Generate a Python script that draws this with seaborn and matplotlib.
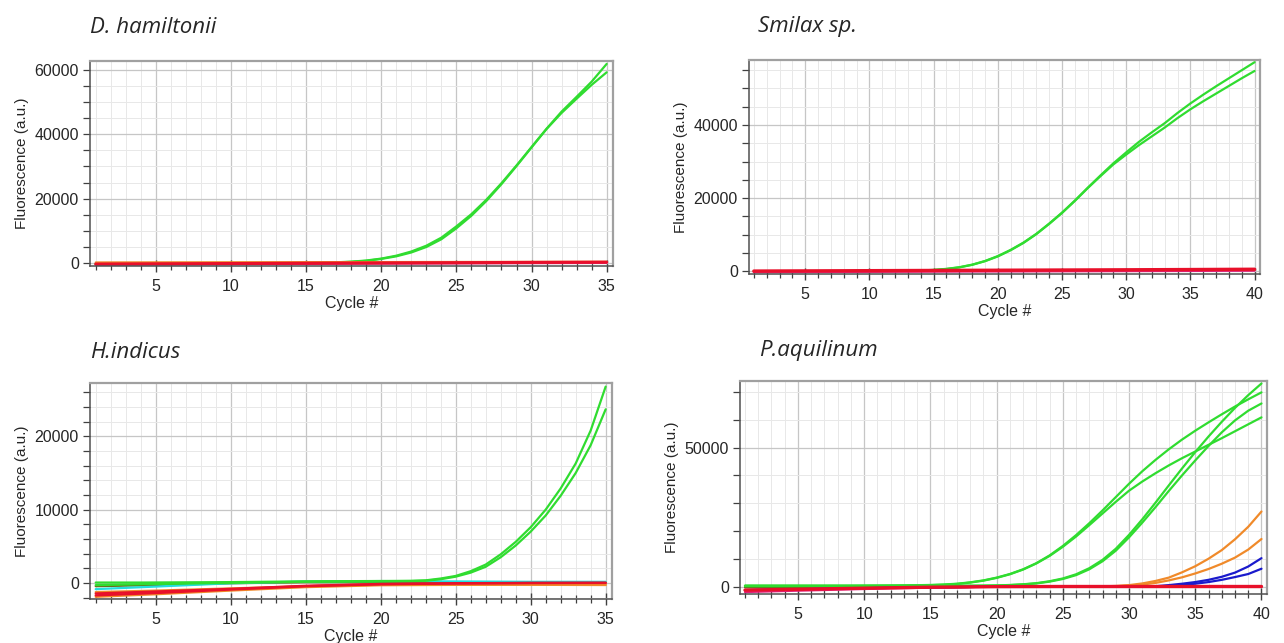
import matplotlib
matplotlib.use('Agg')
import matplotlib.pyplot as plt
from matplotlib.ticker import MultipleLocator, FixedLocator
import pandas as pd
import seaborn as sns

# x values
cyc35 = list(range(1, 36))
cyc40 = list(range(1, 41))
base35 = [1, 5, 10, 15, 20, 25, 30, 35]
base40 = [1, 5, 10, 15, 20, 25, 30, 35, 40]

# D. hamiltonii
dh_green_a = [-200, -190, -180, -170, -160, -150, -140, -130, -120, -100,
              -80, -60, -30, 0, 50, 120, 250, 450, 800,
              1400, 2300, 3600, 5400, 7900, 11400, 15200, 19700, 24800,
              30300, 36000, 41700, 47000, 51600, 56300, 61800]
dh_green_b = [-250, -240, -230, -220, -210, -200, -185, -170, -155, -140,
              -120, -100, -70, -40, 0, 80, 200, 380, 700,
              1300, 2100, 3300, 5000, 7400, 10800, 14700, 19300, 24500,
              30100, 35900, 41600, 46600, 51000, 55300, 59200]
dh_orange = [200, 230, 260, 290, 320, 350, 380, 400]
dh_magenta = [-500, -420, -330, -250, -160, -80, 0, 80]
dh_red = [-300, -220, -130, -40, 50, 130, 220, 300]

# Smilax sp.
sm_green_a = [-100, -100, -90, -80, -70, -60, -50, -40, -30, -20, 0, 30, 80,
              160, 320, 600, 1050, 1750, 2750, 4100, 5800, 7800, 10200, 13000,
              16000, 19300, 22800, 26200, 29500, 32500, 35400, 38000, 40500,
              43300, 45900, 48300, 50600, 52800, 55000, 57200]
sm_green_b = [-150, -150, -140, -130, -120, -110, -100, -90, -80, -60, -40, -10, 40,
              120, 280, 560, 1000, 1700, 2700, 4000, 5700, 7700, 10100, 12900,
              15900, 19200, 22700, 26000, 29200, 31900, 34500, 36900, 39300,
              41900, 44300, 46500, 48600, 50700, 52800, 54800]
sm_orange = [-100, -60, -20, 30, 80, 130, 180, 240, 300]
sm_magenta = [-300, -260, -210, -160, -110, -60, -10, 40, 100]
sm_red = [0, 50, 110, 170, 230, 290, 350, 420, 500]

# H. indicus
hi_green_a = [50, 50, 50, 50, 60, 70, 80, 90, 100, 110, 130, 150, 170, 190, 210,
              220, 230, 240, 250, 260, 270, 290, 350,
              600, 950, 1600, 2500, 3900, 5600, 7600, 10000, 12900, 16300, 20800, 26800]
hi_green_b = [-300, -260, -220, -180, -150, -120, -90, -60, -30, 0, 30, 60, 90, 120, 150,
              160, 170, 180, 190, 200, 210, 240, 300,
              500, 850, 1400, 2200, 3500, 5100, 7000, 9200, 11900, 15000, 18800, 23700]
hi_olive = [-450, -300, -50, 100, 100, 80, 60, 50]
hi_cyan = [-850, -500, -50, 200, 250, 200, 150, 150]
hi_orange_a = [-1250, -1050, -750, -450, -250, -220, -220, -250]
hi_orange_b = [-1900, -1550, -1050, -580, -320, -270, -260, -290]
hi_red_a = [-1450, -1180, -820, -400, -150, -50, 0, 20]
hi_red_b = [-1700, -1380, -900, -450, -180, -80, -20, 0]

# P. aquilinum
pa_green_a = [300, 300, 300, 300, 300, 300, 300, 300, 300, 320, 340, 370, 410, 470,
              560, 720, 1000, 1500, 2200, 3200, 4500, 6200, 8400, 11200, 14600, 18500,
              22800, 27400, 32200, 37000, 41500, 45600, 49400, 52900, 56100, 59100,
              62000, 64800, 67400, 69900]
pa_green_b = [200, 200, 200, 200, 200, 200, 200, 210, 220, 240, 260, 290, 330, 390,
              480, 640, 920, 1400, 2100, 3100, 4400, 6100, 8300, 11000, 14300, 18000,
              22100, 26300, 30500, 34500, 37800, 40800, 43600, 46200, 48600, 51000,
              53400, 55900, 58400, 60900]
pa_green_c = [250, 250, 250, 250, 250, 250, 250, 250, 250, 250, 250, 250, 250, 260,
              270, 280, 300, 320, 350,
              400, 550, 800, 1200, 1900, 2900, 4400, 6600, 9600, 13600, 18600, 24200,
              30200, 36400, 42500, 48400, 54000, 59300, 64300, 68900, 73100]
pa_green_d = [150, 150, 150, 150, 150, 150, 150, 150, 150, 150, 150, 150, 150, 160,
              170, 180, 200, 220, 250,
              350, 500, 750, 1100, 1750, 2700, 4100, 6200, 9100, 12900, 17700, 23000,
              28600, 34400, 40000, 45400, 50600, 55500, 59800, 63300, 65900]
pa_late_x = [1, 10, 20, 28, 29, 30, 31, 32, 33, 34, 35, 36, 37, 38, 39, 40]
pa_orange_a = [-1300, -600, -50, 50, 200, 500, 1100, 2000, 3200, 5100, 7300, 10000, 13100, 17000, 21500, 27000]
pa_orange_b = [-1300, -600, -50, 20, 100, 300, 700, 1300, 2200, 3300, 4700, 6300, 8200, 10400, 13300, 17100]
pa_blue_a = [-1300, -600, -50, 0, 0, 20, 50, 100, 500, 1000, 1600, 2400, 3500, 5000, 7200, 10200]
pa_blue_b = [-1300, -600, -50, 0, 0, 0, 20, 60, 200, 600, 1000, 1600, 2400, 3400, 4500, 6400]
pa_olive = [-300, -220, -120, -40, 0, 0, 0, 0, 0]
pa_magenta = [-2000, -1500, -900, -400, -100, 0, 0, 0, 0]
pa_red = [-1300, -1000, -600, -250, -50, 0, 0, 0, 0]

titles = ['D. hamiltonii', 'Smilax sp.', 'H.indicus', 'P.aquilinum']

GREEN = '#30dc30'
RED = '#e8102a'
MAGENTA = '#e0207a'
ORANGE = '#f08a2a'
BLUE = '#1a1acc'
CYAN = '#22dede'
OLIVE = '#6b6b1a'

panels = [
    [('g1', cyc35, dh_green_a, GREEN), ('g2', cyc35, dh_green_b, GREEN),
     ('o1', base35, dh_orange, ORANGE), ('m1', base35, dh_magenta, MAGENTA),
     ('r1', base35, dh_red, RED)],
    [('g1', cyc40, sm_green_a, GREEN), ('g2', cyc40, sm_green_b, GREEN),
     ('o1', base40, sm_orange, ORANGE), ('m1', base40, sm_magenta, MAGENTA),
     ('r1', base40, sm_red, RED)],
    [('v1', base35, hi_olive, OLIVE), ('c1', base35, hi_cyan, CYAN),
     ('g1', cyc35, hi_green_a, GREEN), ('g2', cyc35, hi_green_b, GREEN),
     ('o1', base35, hi_orange_a, ORANGE), ('o2', base35, hi_orange_b, ORANGE),
     ('r1', base35, hi_red_a, RED), ('r2', base35, hi_red_b, RED)],
    [('v1', base40, pa_olive, OLIVE),
     ('g1', cyc40, pa_green_a, GREEN), ('g2', cyc40, pa_green_b, GREEN),
     ('g3', cyc40, pa_green_c, GREEN), ('g4', cyc40, pa_green_d, GREEN),
     ('o1', pa_late_x, pa_orange_a, ORANGE), ('o2', pa_late_x, pa_orange_b, ORANGE),
     ('b1', pa_late_x, pa_blue_a, BLUE), ('b2', pa_late_x, pa_blue_b, BLUE),
     ('m1', base40, pa_magenta, MAGENTA), ('r1', base40, pa_red, RED)],
]
red_width = [2.2, 2.4, 1.7, 2.4]

# axes boxes in figure fractions, x limits, y limits, y major / minor step
boxes = [
    ([0.0701, 0.5863, 0.4073, 0.3188], 35, (-900, 62700), 20000, 5000),
    ([0.5833, 0.5739, 0.3980, 0.3328], 40, (-800, 57800), 20000, 5000),
    ([0.0701, 0.0684, 0.4065, 0.3360], 35, (-2200, 27300), 10000, 2000),
    ([0.5763, 0.0762, 0.4105, 0.3313], 40, (-2700, 74000), 50000, 10000),
]
title_pos = [(0.0701, 0.949), (0.590, 0.950), (0.0701, 0.443), (0.591, 0.446)]

sns.set_theme(style='white')
plt.rcParams['font.family'] = ['Liberation Sans', 'DejaVu Sans']

fig = plt.figure(figsize=(12.84, 6.43), dpi=100)
fig.patch.set_facecolor('white')

for i, curves in enumerate(panels):
    rect, xmax, ylim, ymaj, ymin = boxes[i]
    ax = fig.add_axes(rect)
    rows = []
    for name, xs, ys, col in curves:
        for x, y in zip(xs, ys):
            rows.append({'cycle': x, 'fluor': y, 'well': name})
    df = pd.DataFrame(rows)
    pal = {name: col for name, xs, ys, col in curves}
    order = [c[0] for c in curves]
    sns.lineplot(data=df, x='cycle', y='fluor', hue='well', hue_order=order,
                 palette=pal, estimator=None, legend=False, lw=1.6, ax=ax)
    for line, c in zip(ax.get_lines(), curves):
        if c[3] == RED:
            line.set_linewidth(red_width[i])

    ax.set_xlim(0.62, xmax + 0.42)
    ax.set_ylim(*ylim)
    ax.xaxis.set_major_locator(MultipleLocator(5))
    ax.xaxis.set_minor_locator(FixedLocator(list(range(1, xmax + 1))))
    ax.yaxis.set_major_locator(MultipleLocator(ymaj))
    ax.yaxis.set_minor_locator(MultipleLocator(ymin))
    ax.grid(which='major', color='#c6c6c6', lw=0.9)
    ax.grid(which='minor', color='#e8e8e8', lw=0.7)
    ax.set_axisbelow(True)
    ax.tick_params(axis='x', which='major', direction='inout', length=9, width=1,
                   color='#404040', labelsize=11.5, pad=5, bottom=True)
    ax.tick_params(axis='x', which='minor', direction='inout', length=6, width=0.9,
                   color='#404040', bottom=True)
    ax.tick_params(axis='y', which='both', direction='out', length=5, width=0.9,
                   color='#404040', labelsize=11.5, pad=3, left=True)
    for side in ['left', 'bottom']:
        ax.spines[side].set_color('#505050')
        ax.spines[side].set_linewidth(1.1)
    for side in ['top', 'right']:
        ax.spines[side].set_color('#a0a0a0')
        ax.spines[side].set_linewidth(1.6)
    ax.set_xlabel('Cycle #', fontsize=11.5, labelpad=1)
    ax.set_ylabel('Fluorescence (a.u.)', fontsize=11, labelpad=4)

    tx, ty = title_pos[i]
    fig.text(tx, ty, titles[i], fontsize=16, style='italic',
             family=['Open Sans', 'DejaVu Sans'], ha='left', va='baseline')

fig.savefig('out.png', dpi=100, facecolor='white')
